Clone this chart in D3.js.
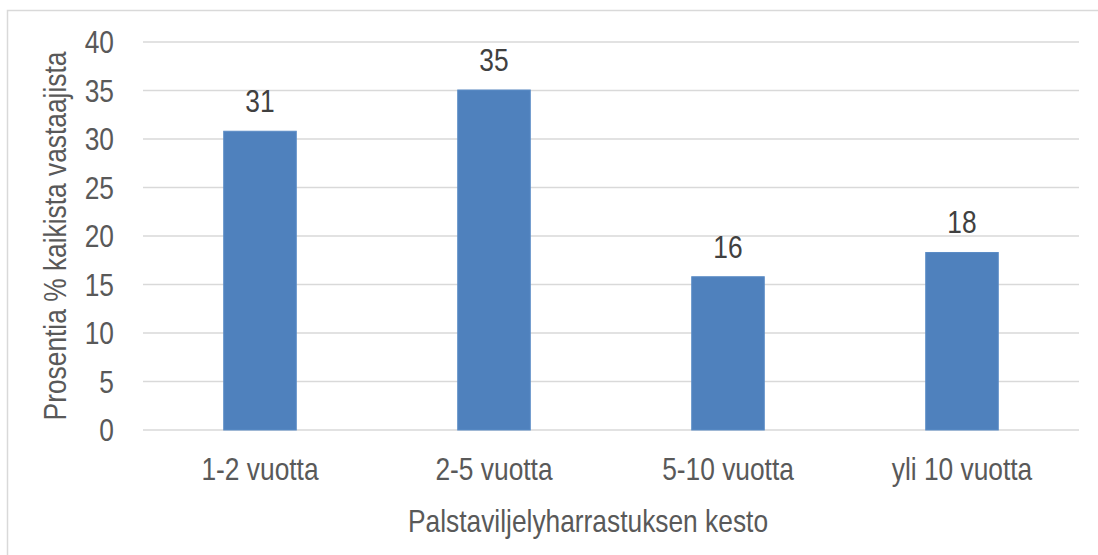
<!DOCTYPE html>
<html>
<head>
<meta charset="utf-8">
<script src="https://cdn.jsdelivr.net/npm/d3@7"></script>
<style>
    body { margin: 0; background: #fff; }
    text { font-family: "Liberation Sans", Arial, sans-serif; font-size: 31px; fill: #595959; }
</style>
</head>
<body>
<div id="bar_chart"></div>
<script>
// Chart data
let categories = ["1-2 vuotta", "2-5 vuotta", "5-10 vuotta", "yli 10 vuotta"];
let values = [30.8, 35.05, 15.8, 18.3];
let value_labels = ["31", "35", "16", "18"];
let y_ticks = [0, 5, 10, 15, 20, 25, 30, 35, 40];
let x_title = "Palstaviljelyharrastuksen kesto";
let y_title = "Prosentia % kaikista vastaajista";

// narrow font is not installed, so squeeze the regular one
const narrow = 0.85;
function place(px, py, rot) {
    return "translate(" + px + "," + py + ")" + (rot ? " rotate(" + rot + ")" : "") + " scale(" + narrow + ",1)";
}

function gen_bar_chart() {
    let width = 1098,
        height = 555;
    let left = 143, right = 1079, top = 42, bottom = 430;

    let svg = d3.select("#bar_chart")
        .append("svg")
        .attr("width", width)
        .attr("height", height);

    // chart border (cut off at right and bottom)
    svg.append("rect")
        .attr("x", 7.5).attr("y", 10.5)
        .attr("width", 1200).attr("height", 600)
        .attr("fill", "none")
        .attr("stroke", "#d9d9d9")
        .attr("stroke-width", 1.5);

    let x = d3.scaleBand()
        .domain(categories)
        .range([left, right])
        .paddingInner(0.69)
        .paddingOuter(0.345);

    let y = d3.scaleLinear()
        .domain([0, 40])
        .range([bottom, top]);

    // gridlines
    svg.append("g")
        .selectAll("line")
        .data(y_ticks)
        .enter().append("line")
        .attr("x1", left).attr("x2", right)
        .attr("y1", d => y(d)).attr("y2", d => y(d))
        .attr("stroke", "#d9d9d9")
        .attr("stroke-width", 1.5);

    // y tick labels
    svg.append("g")
        .selectAll("text")
        .data(y_ticks)
        .enter().append("text")
        .attr("transform", d => place(114, y(d)))
        .attr("dy", "0.36em")
        .attr("text-anchor", "end")
        .text(d => d);

    // bars
    svg.append("g")
        .selectAll("rect")
        .data(values)
        .enter().append("rect")
        .attr("x", (d, i) => x(categories[i]))
        .attr("y", d => y(d))
        .attr("width", x.bandwidth())
        .attr("height", d => y(0) - y(d))
        .attr("fill", "#4f81bd")
        .attr("stroke", "#5b8cc6")
        .attr("stroke-width", 1);

    // value labels
    svg.append("g")
        .selectAll("text")
        .data(values)
        .enter().append("text")
        .attr("transform", (d, i) => place(x(categories[i]) + x.bandwidth() / 2, y(d) - 19))
        .attr("text-anchor", "middle")
        .style("fill", "#404040")
        .text((d, i) => value_labels[i]);

    // category labels
    svg.append("g")
        .selectAll("text")
        .data(categories)
        .enter().append("text")
        .attr("transform", d => place(x(d) + x.bandwidth() / 2, 480))
        .attr("text-anchor", "middle")
        .text(d => d);

    // axis titles
    svg.append("text")
        .attr("transform", place(588, 532))
        .attr("text-anchor", "middle")
        .text(x_title);

    svg.append("text")
        .attr("transform", place(66, (top + bottom) / 2, -90))
        .attr("text-anchor", "middle")
        .text(y_title);
}

// MAIN
gen_bar_chart();
</script>
</body>
</html>
